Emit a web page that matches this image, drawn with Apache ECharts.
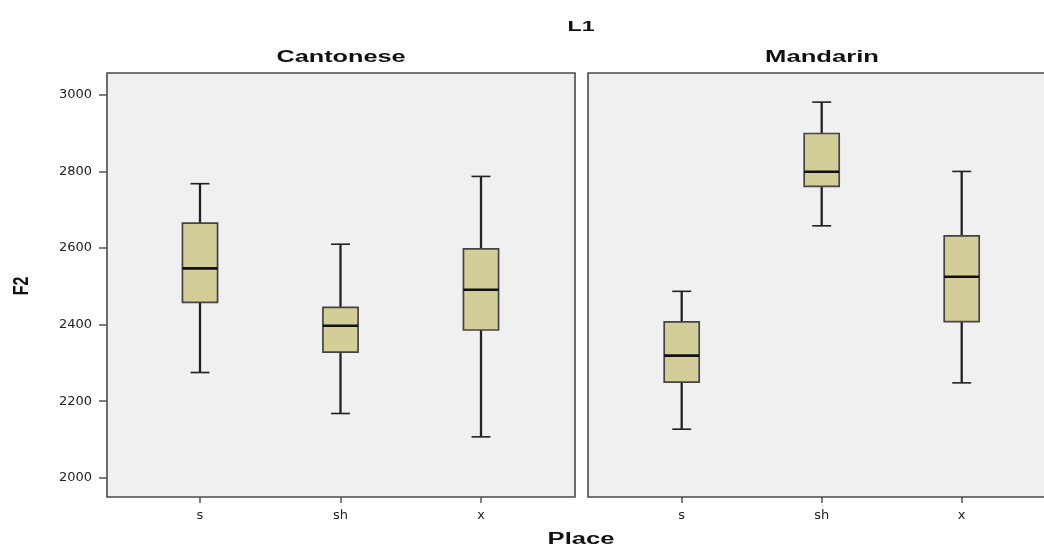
<!DOCTYPE html>
<html>
<head>
<meta charset="utf-8">
<script src="https://cdn.jsdelivr.net/npm/echarts@6/dist/echarts.min.js"></script>
<style>
  html, body { margin: 0; padding: 0; background: #ffffff; }
  #chart { width: 1044px; height: 548px; }
</style>
</head>
<body>
<div id="chart"></div>
<script>
// ---- data ----
const categories = ['s', 'sh', 'x'];
const panels = ['Cantonese', 'Mandarin'];
// [min whisker, Q1, median, Q3, max whisker]
const cantoneseS  = [2275, 2458, 2547, 2665, 2768];
const cantoneseSh = [2168, 2328, 2397, 2445, 2610];
const cantoneseX  = [2107, 2386, 2491, 2598, 2787];
const mandarinS   = [2127, 2250, 2319, 2407, 2487];
const mandarinSh  = [2658, 2761, 2799, 2899, 2981];
const mandarinX   = [2248, 2408, 2525, 2632, 2800];
const yTicks = [2000, 2200, 2400, 2600, 2800, 3000];
const yMin = 1950, yMax = 3057;
const titleText = 'L1';
const xName = 'Place';
const yName = 'F2';

const cantoneseData = [cantoneseS, cantoneseSh, cantoneseX].map((d, i) => [i].concat(d));
const mandarinData  = [mandarinS, mandarinSh, mandarinX].map((d, i) => [i].concat(d));

const FONT = '"Liberation Sans", Arial, sans-serif';
const LABEL_FONT = '"DejaVu Sans", sans-serif';
const PANEL_BG = '#F0F0F0';
const BORDER = '#4A4A4A';

function renderBox(params, api) {
  const c = api.value(0);
  const pMin = api.coord([c, api.value(1)]);
  const pQ1 = api.coord([c, api.value(2)]);
  const pMed = api.coord([c, api.value(3)]);
  const pQ3 = api.coord([c, api.value(4)]);
  const pMax = api.coord([c, api.value(5)]);
  const band = api.size([1, 0])[0];
  const bw = band * 0.25;
  const cw = band * 0.135;
  const cx = pMed[0];
  const wStyle = { stroke: '#222', lineWidth: 2.3 };
  const capStyle = { stroke: '#222', lineWidth: 1.6 };
  return {
    type: 'group',
    children: [
      { type: 'line', shape: { x1: cx, y1: pMax[1], x2: cx, y2: pQ3[1] }, style: wStyle },
      { type: 'line', shape: { x1: cx, y1: pQ1[1], x2: cx, y2: pMin[1] }, style: wStyle },
      { type: 'line', shape: { x1: cx - cw / 2, y1: pMax[1], x2: cx + cw / 2, y2: pMax[1] }, style: capStyle },
      { type: 'line', shape: { x1: cx - cw / 2, y1: pMin[1], x2: cx + cw / 2, y2: pMin[1] }, style: capStyle },
      { type: 'rect', shape: { x: cx - bw / 2, y: pQ3[1], width: bw, height: pQ1[1] - pQ3[1] },
        style: { fill: '#D3CE98', stroke: '#444', lineWidth: 1.7 } },
      { type: 'line', shape: { x1: cx - bw / 2, y1: pMed[1], x2: cx + bw / 2, y2: pMed[1] },
        style: { stroke: '#111', lineWidth: 2.6 } }
    ]
  };
}

const TOP = 73, HEIGHT = 424;
const chart = echarts.init(document.getElementById('chart'), null, { renderer: 'canvas' });

const yBase = { type: 'value', min: yMin, max: yMax, splitLine: { show: false } };
const catAxis = (gi) => ({
  type: 'category', gridIndex: gi, data: categories, position: 'bottom',
  axisLine: { show: false },
  axisTick: { show: true, alignWithLabel: true, length: 6, lineStyle: { color: '#555', width: 1.5 } },
  axisLabel: { fontFamily: LABEL_FONT, fontSize: 13, color: '#222', margin: 12 },
  splitLine: { show: false }
});

chart.setOption({
  backgroundColor: '#ffffff',
  animation: false,
  grid: [
    { left: 107, top: TOP, width: 468, height: HEIGHT, show: true, backgroundColor: PANEL_BG, borderColor: BORDER, borderWidth: 1.6 },
    { left: 588, top: TOP, right: 0, height: HEIGHT, show: true, backgroundColor: PANEL_BG, borderWidth: 0 },
    { left: 129.75, top: TOP, width: 421.5, height: HEIGHT },
    { left: 611.7, top: TOP, width: 420, height: HEIGHT }
  ],
  xAxis: [
    { type: 'value', gridIndex: 0, show: false, min: 0, max: 1 },
    { type: 'value', gridIndex: 1, show: false, min: 0, max: 1 },
    catAxis(2),
    catAxis(3)
  ],
  yAxis: [
    Object.assign({}, yBase, {
      gridIndex: 0,
      axisLine: { show: false },
      axisTick: { show: true, length: 8, customValues: yTicks, lineStyle: { color: '#555', width: 1.5 } },
      axisLabel: { show: true, customValues: yTicks, formatter: (v) => String(v), fontFamily: LABEL_FONT, fontSize: 13, color: '#222', margin: 15 }
    }),
    Object.assign({}, yBase, { gridIndex: 1, show: false }),
    Object.assign({}, yBase, { gridIndex: 2, show: false }),
    Object.assign({}, yBase, { gridIndex: 3, show: false })
  ],
  series: [
    { type: 'custom', name: panels[0], xAxisIndex: 2, yAxisIndex: 2, data: cantoneseData,
      encode: { x: 0, y: [1, 2, 3, 4, 5] }, renderItem: renderBox },
    { type: 'custom', name: panels[1], xAxisIndex: 3, yAxisIndex: 3, data: mandarinData,
      encode: { x: 0, y: [1, 2, 3, 4, 5] }, renderItem: renderBox }
  ],
  graphic: [
    // frame of the right panel, which runs past the right edge of the picture
    { type: 'polyline', z: 5, silent: true,
      shape: { points: [[1060, 73], [588, 73], [588, 497], [1060, 497]] },
      style: { fill: null, stroke: BORDER, lineWidth: 1.6 } },
    { type: 'text', x: 581, y: 27, scaleX: 1.55, style: { text: titleText, font: 'bold 15px ' + FONT, fill: '#111', textAlign: 'center', textVerticalAlign: 'middle' } },
    { type: 'text', x: 341, y: 58, scaleX: 1.58, style: { text: panels[0], font: 'bold 16px ' + FONT, fill: '#111', textAlign: 'center', textVerticalAlign: 'middle' } },
    { type: 'text', x: 822, y: 58, scaleX: 1.6, style: { text: panels[1], font: 'bold 16px ' + FONT, fill: '#111', textAlign: 'center', textVerticalAlign: 'middle' } },
    { type: 'text', x: 581, y: 540, scaleX: 1.6, style: { text: xName, font: 'bold 16px ' + FONT, fill: '#111', textAlign: 'center', textVerticalAlign: 'middle' } },
    { type: 'text', x: 22, y: 286, rotation: Math.PI / 2, scaleY: 1.4, style: { text: yName, font: 'bold 16px ' + FONT, fill: '#111', textAlign: 'center', textVerticalAlign: 'middle' } }
  ]
});
</script>
</body>
</html>
